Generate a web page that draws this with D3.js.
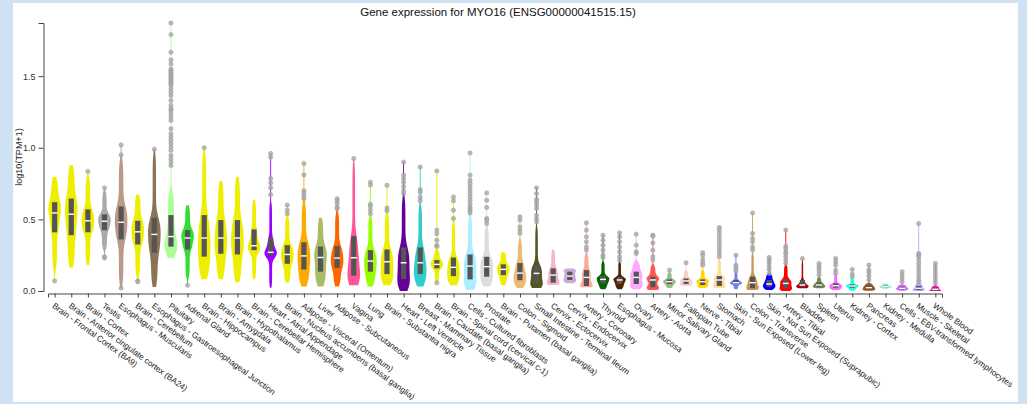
<!DOCTYPE html>
<html>
<head>
<meta charset="utf-8">
<script src="https://cdn.jsdelivr.net/npm/d3@7"></script>
<style>
  html, body { margin: 0; padding: 0; background: #cfe1f3; }
  svg { display: block; }
  text { font-family: "Liberation Sans", Arial, sans-serif; }
</style>
</head>
<body>
<svg id="chart" width="1027" height="404"></svg>
<script>
// MYO16 expression per tissue, log10(TPM+1)
const tissues = [
  "Brain - Frontal Cortex (BA9)", "Brain - Anterior cingulate cortex (BA24)", "Brain - Cortex", "Testis",
  "Esophagus - Muscularis", "Brain - Cerebellum", "Esophagus - Gastroesophageal Junction", "Pituitary",
  "Adrenal Gland", "Brain - Hippocampus", "Brain - Amygdala", "Brain - Hypothalamus",
  "Brain - Cerebellar Hemisphere", "Heart - Atrial Appendage", "Brain - Nucleus accumbens (basal ganglia)",
  "Adipose - Visceral (Omentum)", "Liver", "Adipose - Subcutaneous", "Vagina", "Lung",
  "Brain - Substantia nigra", "Heart - Left Ventricle", "Breast - Mammary Tissue",
  "Brain - Caudate (basal ganglia)", "Brain - Spinal cord (cervical c-1)", "Cells - Cultured fibroblasts",
  "Prostate", "Brain - Putamen (basal ganglia)", "Colon - Sigmoid", "Small Intestine - Terminal Ileum",
  "Cervix - Ectocervix", "Cervix - Endocervix", "Artery - Coronary", "Thyroid", "Esophagus - Mucosa",
  "Ovary", "Artery - Aorta", "Minor Salivary Gland", "Fallopian Tube", "Nerve - Tibial", "Stomach",
  "Skin - Sun Exposed (Lower leg)", "Colon - Transverse", "Skin - Not Sun Exposed (Suprapubic)",
  "Artery - Tibial", "Bladder", "Spleen", "Uterus", "Kidney - Cortex", "Pancreas", "Kidney - Medulla",
  "Cells - EBV-transformed lymphocytes", "Muscle - Skeletal", "Whole Blood"
];

// lower end of the violin body
const lowValues = [0.15, 0.16, 0.18, 0.29, 0.03, 0.10, 0.025, 0.23, 0.09, 0.08, 0.08, 0.06, 0.08, 0.02, 0.058,
  0.03, 0.03, 0.03, 0.04, 0.03, 0.04, 0.0, 0.03, 0.065, 0.04, 0.007, 0.03, 0.04, 0.02, 0.02,
  0.042, 0.053, 0.026, 0.012, 0.012, 0.012, 0.007, 0.02, 0.035, 0.02, 0.02, 0.012, 0.007, 0.007,
  0.0, 0.019, 0.019, 0.007, 0.002, 0.002, 0.016, 0.002, 0.0, 0.0];
const q1Values = [0.41, 0.39, 0.41, 0.425, 0.36, 0.325, 0.267, 0.31, 0.29, 0.24, 0.26, 0.255, 0.285, 0.25, 0.19,
  0.15, 0.135, 0.162, 0.107, 0.135, 0.118, 0.084, 0.118, 0.158, 0.104, 0.081, 0.10, 0.111, 0.075, 0.053,
  0.058, 0.077, 0.035, 0.053, 0.049, 0.049, 0.026, 0.049, 0.049, 0.042, 0.035, 0.049, 0.019, 0.03,
  0.019, 0.03, 0.03, 0.023, 0.023, 0.012, 0.025, 0.012, 0.007, 0.002];
const medianValues = [0.545, 0.536, 0.49, 0.487, 0.48, 0.413, 0.395, 0.38, 0.37, 0.37, 0.37, 0.37, 0.316, 0.27, 0.255,
  0.245, 0.234, 0.23, 0.232, 0.209, 0.204, 0.197, 0.197, 0.186, 0.165, 0.174, 0.17, 0.151, 0.125, 0.123,
  0.111, 0.104, 0.095, 0.081, 0.077, 0.095, 0.077, 0.065, 0.07, 0.065, 0.077, 0.058, 0.058, 0.049,
  0.053, 0.042, 0.042, 0.037, 0.035, 0.023, 0.03, 0.019, 0.019, 0.012];
const q3Values = [0.62, 0.645, 0.57, 0.535, 0.59, 0.49, 0.51, 0.53, 0.425, 0.53, 0.495, 0.495, 0.43, 0.37, 0.32,
  0.34, 0.31, 0.313, 0.383, 0.285, 0.29, 0.304, 0.304, 0.216, 0.234, 0.255, 0.239, 0.186, 0.195, 0.18,
  0.158, 0.135, 0.146, 0.104, 0.095, 0.135, 0.10, 0.081, 0.088, 0.081, 0.104, 0.077, 0.10, 0.077,
  0.081, 0.077, 0.058, 0.053, 0.046, 0.035, 0.037, 0.03, 0.035, 0.023];
// upper end of the violin body (below the outliers)
const highValues = [0.80, 0.88, 0.80, 0.70, 0.92, 0.675, 0.97, 0.70, 0.60, 0.98, 0.77, 0.80, 0.64, 0.62, 0.52,
  0.62, 0.513, 0.55, 0.90, 0.52, 0.54, 0.66, 0.60, 0.285, 0.48, 0.53, 0.448, 0.274, 0.355, 0.45,
  0.29, 0.158, 0.262, 0.204, 0.204, 0.204, 0.18, 0.128, 0.142, 0.146, 0.22, 0.135, 0.262, 0.118,
  0.181, 0.204, 0.095, 0.118, 0.088, 0.053, 0.053, 0.042, 0.055, 0.035];
const outlierValues = [
  [0.07], [], [0.835], [0.72, 0.24, 0.23], [1.02, 0.95, 0.02], [0.07, 0.065], [0.99],
  [1.871, 1.79, 1.667, 1.613, 1.585, 1.55, 1.539, 1.527, 1.516, 1.504, 1.493, 1.481, 1.469, 1.458, 1.446,
   1.435, 1.411, 1.388, 1.365, 1.33, 1.295, 1.272, 1.26, 1.237, 1.214, 1.191, 1.133, 1.098, 1.075, 1.052,
   1.028, 1.005, 0.982, 0.947, 0.924, 0.90, 0.877],
  [0.04], [1.0], [], [], [], [0.96, 0.935, 0.785, 0.754, 0.72, 0.673], [0.60, 0.565, 0.54],
  [0.89, 0.81, 0.70, 0.685, 0.665, 0.645], [], [0.645, 0.63, 0.61, 0.585, 0.575], [0.925],
  [0.76, 0.74, 0.606, 0.59, 0.565, 0.54], [0.738, 0.58, 0.56],
  [0.90, 0.81, 0.785, 0.76, 0.73, 0.70, 0.68], [0.866, 0.708, 0.69, 0.655, 0.63],
  [0.838, 0.425, 0.40, 0.355, 0.32, 0.31, 0.058], [0.657, 0.63, 0.564, 0.506],
  [0.963, 0.808, 0.773, 0.75, 0.727, 0.703, 0.68, 0.657, 0.634, 0.61, 0.587, 0.575, 0.56, 0.545],
  [0.685, 0.634, 0.583, 0.506, 0.494, 0.471], [], [0.518, 0.495, 0.448, 0.425, 0.402],
  [0.72, 0.68, 0.64, 0.62, 0.60, 0.576, 0.53, 0.506, 0.483], [], [],
  [0.476, 0.425, 0.378, 0.343, 0.308, 0.286], [0.39, 0.355, 0.32, 0.285, 0.25, 0.234],
  [0.406, 0.378, 0.343, 0.308, 0.274, 0.239, 0.216], [0.397, 0.32, 0.274, 0.262],
  [0.39, 0.383, 0.336, 0.285, 0.239, 0.216], [0.146], [0.197], [0.267, 0.25, 0.22, 0.197, 0.18],
  [0.443, 0.425, 0.402, 0.378, 0.355, 0.332, 0.308, 0.285, 0.262, 0.239], [0.25, 0.18, 0.158, 0.142],
  [0.545, 0.402, 0.367, 0.343, 0.308, 0.286], [0.234, 0.216, 0.197, 0.174, 0.151, 0.123],
  [0.425, 0.313, 0.297, 0.274, 0.262, 0.239, 0.216, 0.193], [0.227], [0.193, 0.174, 0.158, 0.135, 0.111],
  [0.227, 0.204, 0.181, 0.146, 0.123], [0.151, 0.118, 0.10], [0.181, 0.146, 0.128, 0.104, 0.077], [],
  [0.135, 0.111, 0.088, 0.065],
  [0.471, 0.262, 0.25, 0.239, 0.216, 0.193, 0.17, 0.146, 0.123, 0.10, 0.077, 0.065],
  [0.193, 0.17, 0.146, 0.123, 0.10, 0.077, 0.053]
];
const yTicks = [0, 0.5, 1.0, 1.5];

// tissue palette
const tissueColors = ["#EEEE00", "#EEEE00", "#EEEE00", "#AAAAAA", "#BB9988", "#EEEE00", "#8B7355", "#AAFF99",
  "#33DD33", "#EEEE00", "#EEEE00", "#EEEE00", "#EEEE00", "#9900FF", "#EEEE00", "#FFAA00", "#AABB66",
  "#FF6600", "#FF5599", "#99FF00", "#EEEE00", "#660099", "#33CCCC", "#EEEE00", "#EEEE00", "#AAEEFF",
  "#DDDDDD", "#EEEE00", "#EEBB77", "#555522", "#F5B5C5", "#CCAADD", "#FFAA99", "#006600", "#552200",
  "#FFAAFF", "#FF5555", "#99BB88", "#FFCCCC", "#FFD700", "#FFDD99", "#7777FF", "#CC9955", "#0000FF",
  "#FF0000", "#AA0000", "#778855", "#FF66FF", "#22FFDD", "#995522", "#88EECC", "#CC66FF", "#AAAAFF",
  "#FF00BB"];

const svg = d3.select("#chart");

// white panel on the blue page
svg.append("rect").attr("x", 13).attr("y", 3).attr("width", 1005).attr("height", 399)
  .attr("fill", "#ffffff");

const rows = tissues.map((t, i) => ({
  tissue: t, lo: lowValues[i], q1: q1Values[i], med: medianValues[i], q3: q3Values[i],
  hi: highValues[i], out: outlierValues[i], color: tissueColors[i]
}));

const yMax = d3.max(rows, r => d3.max([r.hi, ...r.out]));
const y = d3.scaleLinear().domain([0, yMax]).range([291, 23]);
const x = d3.scalePoint().domain(tissues).range([48, 942]).padding(0.4);

// y axis
const yAxis = svg.append("g").attr("transform", "translate(43.5,0)")
  .call(d3.axisLeft(y).tickValues(yTicks).tickFormat(d3.format(".1f")).tickSize(5).tickSizeOuter(5));
yAxis.select(".domain").attr("stroke", "#444");
yAxis.selectAll(".tick line").attr("stroke", "#444");
yAxis.selectAll(".tick text").attr("font-size", 9).attr("fill", "#333")
  .attr("font-family", "Liberation Sans, Arial, sans-serif");

svg.append("text").attr("transform", "translate(22,157) rotate(-90)")
  .attr("text-anchor", "middle").attr("font-size", 9).attr("fill", "#222")
  .text("log10(TPM+1)");

// x axis
const xAxis = svg.append("g").attr("transform", "translate(0,293.5)")
  .call(d3.axisBottom(x).tickSize(4).tickSizeOuter(4));
xAxis.select(".domain").attr("stroke", "#444");
xAxis.selectAll(".tick line").attr("stroke", "#444");
xAxis.selectAll(".tick text")
  .attr("y", 0).attr("dy", 0).attr("x", 0)
  .attr("transform", "translate(-3.5,13.5) rotate(36)")
  .attr("text-anchor", "start").attr("font-size", 8.3).attr("fill", "#222")
  .attr("font-family", "Liberation Sans, Arial, sans-serif");

// title
svg.append("text").attr("x", 498).attr("y", 16).attr("text-anchor", "middle")
  .attr("font-size", 11.5).attr("fill", "#111")
  .text("Gene expression for MYO16 (ENSG00000041515.15)");

// violin outline: gaussian kernel density over points spread along the quartile curve;
// outliers count with a small weight so they only stretch the tail
function densityProfile(r) {
  const qf = d3.scaleLinear().domain([0, 0.25, 0.5, 0.75, 1]).range([r.lo, r.q1, r.med, r.q3, r.hi]);
  const n = 200;
  const body = d3.range(n).map(k => qf((k + 0.5) / n));
  const pts = body.map(v => ({ v, wt: 1 })).concat(r.out.map(v => ({ v, wt: 0.15 })));
  const sd = d3.deviation(body);
  const iqr = r.q3 - r.q1;
  const h = Math.max(0.9 * Math.min(sd, iqr / 1.34) * Math.pow(n, -0.2), 0.004);
  const lo = d3.min(pts, p => p.v), hi = d3.max(pts, p => p.v);
  const grid = d3.range(101).map(k => lo + (hi - lo) * k / 100);
  return grid.map(v => ({
    v, d: d3.sum(pts, p => p.wt * Math.exp(-0.5 * ((v - p.v) / h) ** 2))
  }));
}

const halfMax = 6.3;
const plot = svg.append("g");
rows.forEach(r => {
  const cx = x(r.tissue);
  const prof = densityProfile(r);
  const dMax = d3.max(prof, p => p.d);
  const w = d3.scaleLinear().domain([0, dMax]).range([0, halfMax]);
  const area = d3.area()
    .y(p => y(p.v))
    .x0(p => cx - Math.max(w(p.d), 0.45))
    .x1(p => cx + Math.max(w(p.d), 0.45))
    .curve(d3.curveBasis);
  const g = plot.append("g");
  g.append("path").attr("d", area(prof)).attr("fill", r.color);
  g.append("rect").attr("x", cx - 2.6).attr("width", 5.2)
    .attr("y", y(r.q3)).attr("height", Math.max(y(r.q1) - y(r.q3), 1))
    .attr("fill", "#555555");
  g.append("line").attr("x1", cx - 3).attr("x2", cx + 3)
    .attr("y1", y(r.med)).attr("y2", y(r.med))
    .attr("stroke", "#ffffff").attr("stroke-width", 1.4);
  g.selectAll("circle").data(r.out).join("circle")
    .attr("cx", cx).attr("cy", d => y(d)).attr("r", 2.2)
    .attr("fill", "#a8a8a8").attr("fill-opacity", 0.8)
    .attr("stroke", "#999").attr("stroke-width", 0.4);
});
</script>
</body>
</html>
